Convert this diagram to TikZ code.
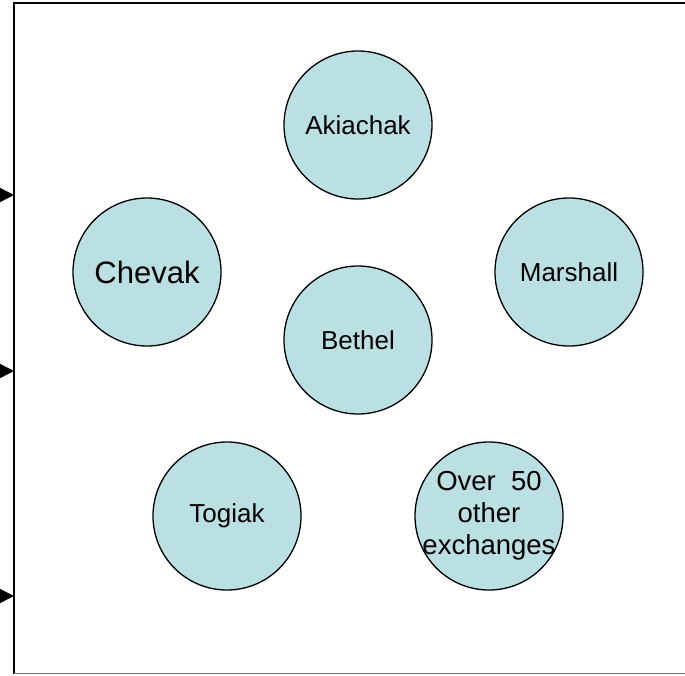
\documentclass[tikz,border=0pt]{standalone}
\usepackage{fontspec}
\setmainfont{Liberation Sans}
\usetikzlibrary{arrows.meta}
\definecolor{cfill}{RGB}{187,224,228}
\tikzset{
  town/.style={circle, draw=black, line width=1.3pt, fill=cfill, minimum size=148pt, inner sep=0pt, align=center, font=\fontsize{26}{32}\selectfont},
  inarrow/.style={-{Triangle[length=14pt,width=14pt]}, line width=1.3pt}
}
\begin{document}
\begin{tikzpicture}[x=1pt,y=-1pt]
\useasboundingbox (0,0) rectangle (685,675);
\draw[line width=1.6pt] (14,674) -- (14,3) -- (700,3);
\draw[line width=1.2pt, black!55] (14,673.5) -- (700,673.5);
\node[town] (akiachak) at (358,125) {Akiachak};
\node[town, font=\fontsize{31}{36}\selectfont] (chevak) at (147,272) {Chevak};
\node[town] (marshall) at (569,272) {Marshall};
\node[town] (bethel) at (358,340) {Bethel};
\node[town] (togiak) at (227,516) {Togiak};
\node[town, inner sep=-35pt, font=\fontsize{27.5}{32}\selectfont] (other) at (489,516) {Over\ \ 50\\other\\exchanges};
\coordinate (s1) at (-20,195); \coordinate (e1) at (14,195);
\coordinate (s2) at (-20,371); \coordinate (e2) at (14,371);
\coordinate (s3) at (-20,596); \coordinate (e3) at (14,596);
\draw[inarrow] (s1) -- (e1);
\draw[inarrow] (s2) -- (e2);
\draw[inarrow] (s3) -- (e3);
\end{tikzpicture}
\end{document}
